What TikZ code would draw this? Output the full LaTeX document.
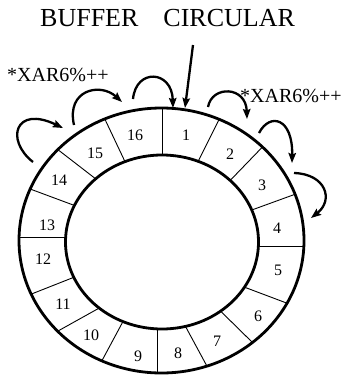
\documentclass[tikz,border=0pt]{standalone}
\usepackage{fontspec}
\setmainfont{Liberation Serif}
\usetikzlibrary{arrows.meta,calc}
\begin{document}
\begin{tikzpicture}[x=1pt,y=-1pt,
  ring/.style={line width=2.8pt},
  divider/.style={line width=0.9pt},
  hook/.style={line width=2.3pt,-{Stealth[length=10pt,width=7.5pt,inset=1.5pt]}},
  num/.style={font=\fontsize{16}{16}\selectfont, inner sep=0pt},
  lab/.style={font=\fontsize{20}{20}\selectfont, inner sep=0pt, anchor=base west},
  title/.style={font=\fontsize{26}{26}\selectfont, inner sep=0pt, anchor=base west},
]
\useasboundingbox (0,0) rectangle (351,375);
\coordinate (oc) at (161.5,240.5);
\coordinate (ic) at (162,242);
% divider directions (outer end, inner end)
\coordinate (O1) at (162,107.5);   \coordinate (I1) at (162,155.5);
\coordinate (O2) at (218,121.5);   \coordinate (I2) at (199.5,158.5);
\coordinate (O3) at (261,148.5);   \coordinate (I3) at (233,177.5);
\coordinate (O4) at (298.5,193);   \coordinate (I4) at (254.5,209);
\coordinate (O5) at (304.5,246);   \coordinate (I5) at (259.5,246);
\coordinate (O6) at (286.5,303);   \coordinate (I6) at (248,288.5);
\coordinate (O7) at (253,343);     \coordinate (I7) at (224,314.5);
\coordinate (O8) at (208.5,369);   \coordinate (I8) at (188.5,332);
\coordinate (O9) at (157,372.5);   \coordinate (I9) at (157,330);
\coordinate (O10) at (101.5,361.5);\coordinate (I10) at (119.5,328);
\coordinate (O11) at (58,331);     \coordinate (I11) at (93,311.5);
\coordinate (O12) at (31.5,294);   \coordinate (I12) at (69.5,279);
\coordinate (O13) at (19.5,237);   \coordinate (I13) at (65.5,237);
\coordinate (O14) at (31.5,189.5); \coordinate (I14) at (70.5,204);
\coordinate (O15) at (59,150.5);   \coordinate (I15) at (92,176);
\coordinate (O16) at (106,121.5);  \coordinate (I16) at (123.5,158.5);

\begin{scope}
  \clip (oc) ellipse [x radius=142.5pt, y radius=132.5pt];
  \foreach \k in {1,...,16}
    \draw[divider] ($(O\k)!1.8!(I\k)$) -- ($(I\k)!1.4!(O\k)$);
  \fill[white] (ic) ellipse [x radius=96.5pt, y radius=87pt];
\end{scope}
\draw[ring] (oc) ellipse [x radius=142.5pt, y radius=132.5pt];
\draw[ring] (ic) ellipse [x radius=96.5pt, y radius=87pt];

% numbers
\node[num] (n1) at (186,135) {1};
\node[num] (n2) at (230,154) {2};
\node[num] (n3) at (262,185) {3};
\node[num] (n4) at (277,228) {4};
\node[num] (n5) at (278,270) {5};
\node[num] (n6) at (258,316) {6};
\node[num] (n7) at (217,341) {7};
\node[num] (n8) at (178,353) {8};
\node[num] (n9) at (138,356) {9};
\node[num] (n10) at (91,335) {10};
\node[num] (n11) at (63,304) {11};
\node[num] (n12) at (43,259) {12};
\node[num] (n13) at (47,225) {13};
\node[num] (n14) at (59,180) {14};
\node[num] (n15) at (95,153) {15};
\node[num] (n16) at (135,135) {16};

% texts
\node[title] (ttl) at (40,26.5) {BUFFER\hspace{25pt}CIRCULAR};
\node[lab] (labL) at (7,81) {*XAR6\%++};
\node[lab] (labR) at (240,102) {*XAR6\%++};

% arrows
\coordinate (a0s) at (193,45);
\coordinate (a0e) at (185,108);
\draw[hook] (a0s) -- (a0e);

\coordinate (a1s) at (133,99);
\coordinate (a1e) at (173,108);
\draw[hook] (a1s) .. controls (136,68) and (172,70) .. (a1e);

\coordinate (a2s) at (74,125);
\coordinate (a2e) at (122,102);
\draw[hook] (a2s) .. controls (66,90) and (100,82) .. (a2e);

\coordinate (a3s) at (33,162);
\coordinate (a3e) at (63,128);
\draw[hook] (a3s) .. controls (5,140) and (15,105) .. (a3e);

\coordinate (a4s) at (208,107);
\coordinate (a4e) at (247,119);
\draw[hook] (a4s) .. controls (212,85) and (246,86) .. (a4e);

\coordinate (a5s) at (259,133);
\coordinate (a5e) at (292,163);
\draw[hook] (a5s) .. controls (270,112) and (293,118) .. (a5e);

\coordinate (a6s) at (294,173);
\coordinate (a6e) at (311,218);
\draw[hook] (a6s) .. controls (326,174) and (334,200) .. (a6e);
\end{tikzpicture}
\end{document}
